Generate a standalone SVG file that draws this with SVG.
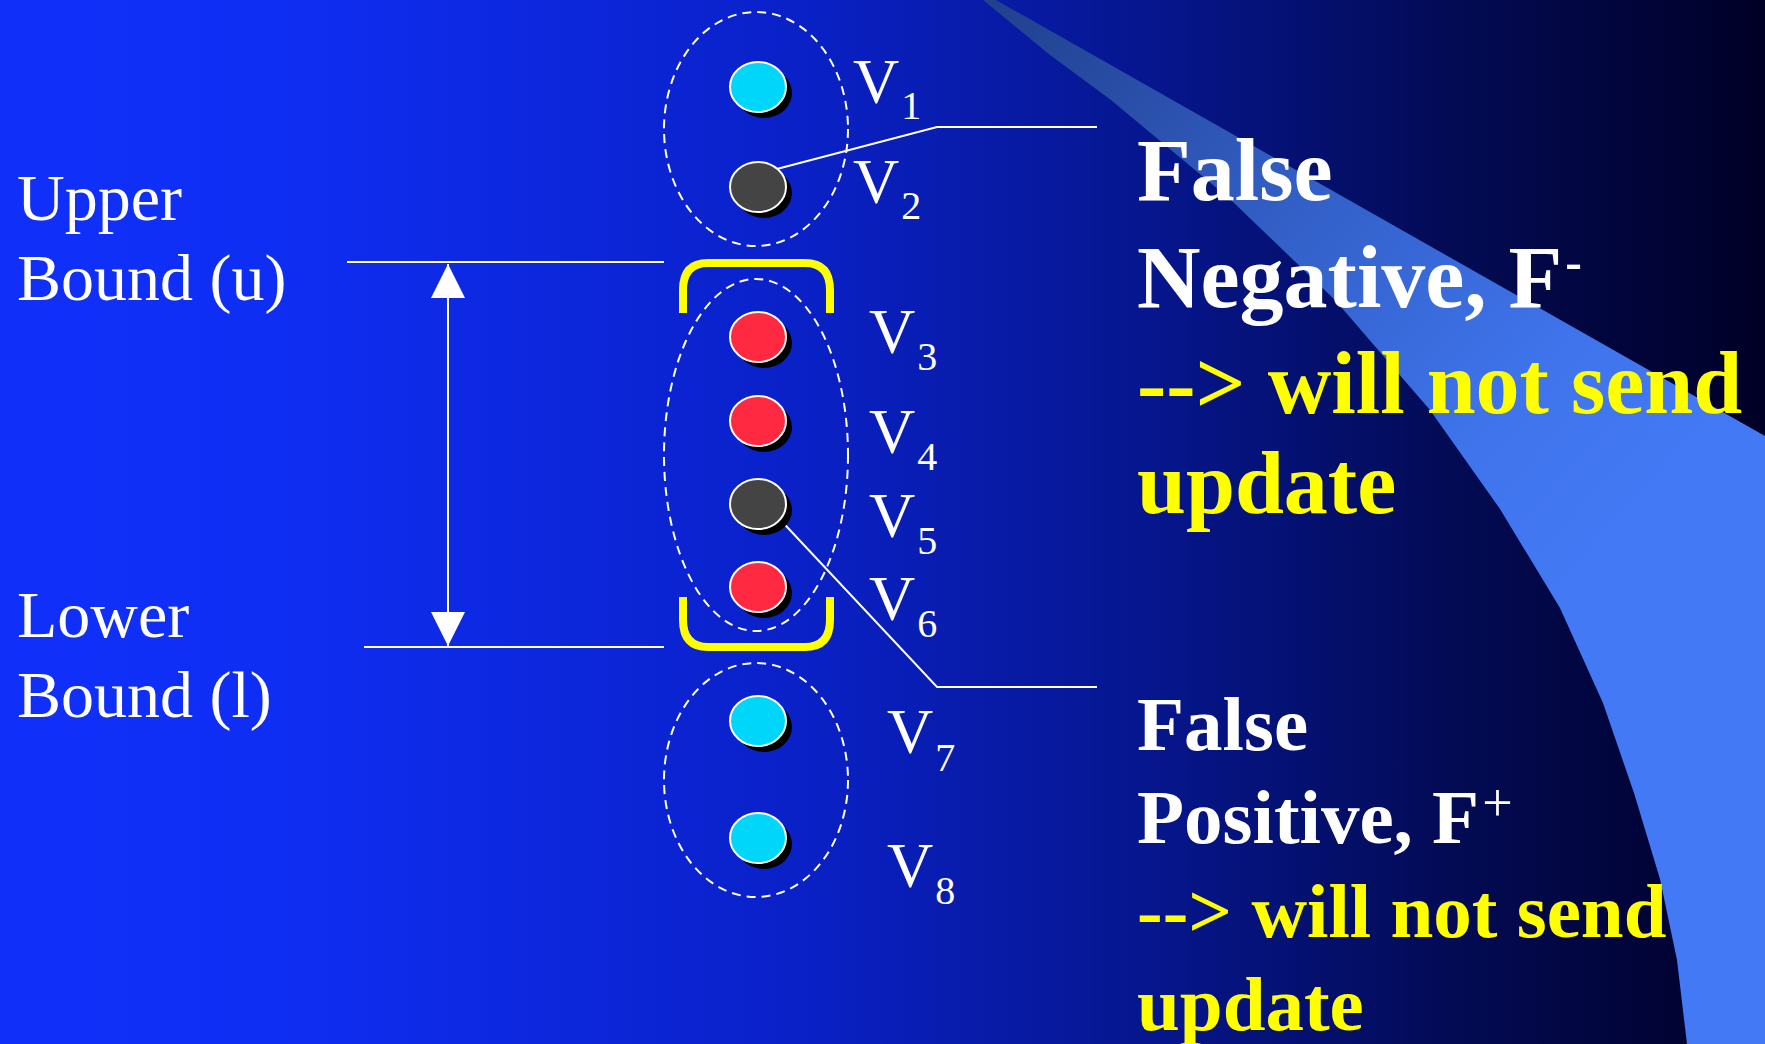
<svg xmlns="http://www.w3.org/2000/svg" width="1765" height="1044" viewBox="0 0 1765 1044">
  <defs>
    <linearGradient id="bg" x1="0" y1="0" x2="1765" y2="0" gradientUnits="userSpaceOnUse">
      <stop offset="0" stop-color="#1030fa"/>
      <stop offset="0.15" stop-color="#0f2ef4"/>
      <stop offset="0.45" stop-color="#0a21c8"/>
      <stop offset="0.65" stop-color="#06168e"/>
      <stop offset="0.82" stop-color="#030b55"/>
      <stop offset="1" stop-color="#000026"/>
    </linearGradient>
    <linearGradient id="beam" x1="990" y1="0" x2="1600" y2="560" gradientUnits="userSpaceOnUse">
      <stop offset="0" stop-color="#21408e"/>
      <stop offset="0.45" stop-color="#3360c8"/>
      <stop offset="0.8" stop-color="#3f74ec"/>
      <stop offset="1" stop-color="#4379f4"/>
    </linearGradient>
    <marker id="ah" viewBox="0 0 36 34" refX="34" refY="17" markerWidth="36" markerHeight="34" markerUnits="userSpaceOnUse" orient="auto-start-reverse">
      <path d="M0,0 L34,17 L0,34 Z" fill="#ffffff"/>
    </marker>
  </defs>
  <style>
    .lbl { font-family: "Liberation Serif", "Times New Roman", serif; fill: #ffffff; }
    .big { font-family: "Liberation Serif", "Times New Roman", serif; font-weight: bold; }
    .w { fill: #ffffff; }
    .y { fill: #ffff00; }
    .dash { fill: none; stroke: #ffffff; stroke-width: 2; stroke-dasharray: 9 6; }
    .shadow { fill: #000000; }
    .dot { stroke: #ffffff; stroke-width: 2; }
    .cyan { fill: #00d6fa; }
    .red { fill: #ff2a42; }
    .dark { fill: #444444; }
    .line { fill: none; stroke: #ffffff; stroke-width: 2; }
    .bracket { fill: none; stroke: #ffff00; stroke-width: 8; stroke-linejoin: round; }
  </style>

  <rect x="0" y="0" width="1765" height="1044" fill="url(#bg)"/>
  <path d="M983,0 L996,0 L1765,436 L1765,1044 L1687,1044 L1677,960 L1660,879 L1634,793 L1603,703 L1560,608 L1500,509 L1430,410 L1335,300 L1231,200 L1111,100 L1050,55 Z" fill="url(#beam)"/>

  <g id="bounds-labels">
    <text class="lbl" x="17" y="220" font-size="66">Upper</text>
    <text class="lbl" x="17" y="300" font-size="66">Bound (u)</text>
    <text class="lbl" x="17" y="637" font-size="66">Lower</text>
    <text class="lbl" x="17" y="717" font-size="66">Bound (l)</text>
  </g>

  <g id="connectors">
    <line class="line" x1="347" y1="262" x2="664" y2="262"/>
    <line class="line" x1="364" y1="647" x2="664" y2="647"/>
    <line class="line" x1="448" y1="264" x2="448" y2="646" marker-start="url(#ah)" marker-end="url(#ah)"/>
    <polyline class="line" points="773,170 937,127 1097,127"/>
    <polyline class="line" points="773,512 937,687 1097,687"/>
  </g>

  <g id="group-top">
    <ellipse class="dash" cx="756" cy="129" rx="92" ry="117"/>
  </g>
  <g id="group-middle">
    <ellipse class="dash" cx="756" cy="455" rx="92" ry="176"/>
    <path class="bracket" d="M683,313 L683,290 Q683,263 708,263 L805,263 Q830,263 830,290 L830,313"/>
    <path class="bracket" d="M683,597 L683,620 Q683,647 708,647 L805,647 Q830,647 830,620 L830,597"/>
  </g>
  <g id="group-bottom">
    <ellipse class="dash" cx="756" cy="780" rx="92" ry="117"/>
  </g>

  <g id="v1">
    <ellipse class="shadow" cx="764" cy="93" rx="28" ry="25"/>
    <ellipse class="dot cyan" cx="758" cy="87" rx="28" ry="25"/>
    <text class="lbl" x="853" y="103" font-size="64">V<tspan font-size="40" dx="2" dy="16">1</tspan></text>
  </g>
  <g id="v2">
    <ellipse class="shadow" cx="764" cy="193" rx="28" ry="25"/>
    <ellipse class="dot dark" cx="758" cy="187" rx="28" ry="25"/>
    <text class="lbl" x="853" y="203" font-size="64">V<tspan font-size="40" dx="2" dy="16">2</tspan></text>
  </g>
  <g id="v3">
    <ellipse class="shadow" cx="764" cy="343" rx="28" ry="25"/>
    <ellipse class="dot red" cx="758" cy="337" rx="28" ry="25"/>
    <text class="lbl" x="869" y="353" font-size="64">V<tspan font-size="40" dx="2" dy="17">3</tspan></text>
  </g>
  <g id="v4">
    <ellipse class="shadow" cx="764" cy="427" rx="28" ry="25"/>
    <ellipse class="dot red" cx="758" cy="421" rx="28" ry="25"/>
    <text class="lbl" x="869" y="453" font-size="64">V<tspan font-size="40" dx="2" dy="17">4</tspan></text>
  </g>
  <g id="v5">
    <ellipse class="shadow" cx="764" cy="510" rx="28" ry="25"/>
    <ellipse class="dot dark" cx="758" cy="504" rx="28" ry="25"/>
    <text class="lbl" x="869" y="537" font-size="64">V<tspan font-size="40" dx="2" dy="17">5</tspan></text>
  </g>
  <g id="v6">
    <ellipse class="shadow" cx="764" cy="593" rx="28" ry="25"/>
    <ellipse class="dot red" cx="758" cy="587" rx="28" ry="25"/>
    <text class="lbl" x="869" y="620" font-size="64">V<tspan font-size="40" dx="2" dy="17">6</tspan></text>
  </g>
  <g id="v7">
    <ellipse class="shadow" cx="764" cy="727" rx="28" ry="25"/>
    <ellipse class="dot cyan" cx="758" cy="721" rx="28" ry="25"/>
    <text class="lbl" x="887" y="753" font-size="64">V<tspan font-size="40" dx="2" dy="18">7</tspan></text>
  </g>
  <g id="v8">
    <ellipse class="shadow" cx="764" cy="844" rx="28" ry="25"/>
    <ellipse class="dot cyan" cx="758" cy="838" rx="28" ry="25"/>
    <text class="lbl" x="887" y="887" font-size="64">V<tspan font-size="40" dx="2" dy="17">8</tspan></text>
  </g>

  <g id="false-negative">
    <text class="big w" x="1137" y="200" font-size="88">False</text>
    <text class="big w" x="1137" y="307" font-size="88">Negative, F<tspan font-size="50" dx="3" dy="-28">-</tspan></text>
    <text class="big y" x="1137" y="413" font-size="88">--&gt; will not send</text>
    <text class="big y" x="1137" y="513" font-size="88">update</text>
  </g>

  <g id="false-positive">
    <text class="big w" x="1137" y="750" font-size="77">False</text>
    <text class="big w" x="1137" y="843" font-size="77">Positive, F<tspan font-size="54" font-weight="normal" dx="3" dy="-22">+</tspan></text>
    <text class="big y" x="1137" y="937" font-size="77">--&gt; will not send</text>
    <text class="big y" x="1137" y="1030" font-size="77">update</text>
  </g>
</svg>
